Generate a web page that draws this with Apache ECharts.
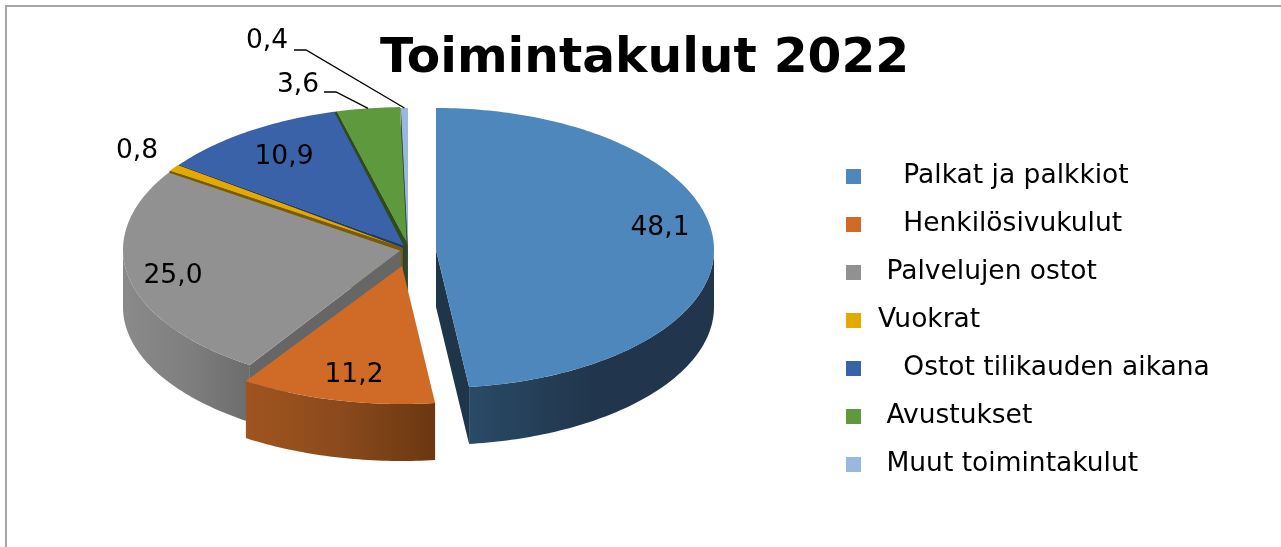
<!DOCTYPE html>
<html>
<head>
<meta charset="utf-8">
<title>Toimintakulut 2022</title>
<script src="https://cdn.jsdelivr.net/npm/echarts@6/dist/echarts.min.js"></script>
<style>
  html, body { margin: 0; padding: 0; background: #fff; }
  #chart { width: 1281px; height: 547px; }
</style>
</head>
<body>
<div id="chart"></div>
<script>
// data
const categories = ['   Palkat ja palkkiot', '   Henkilösivukulut', ' Palvelujen ostot', 'Vuokrat', '   Ostot tilikauden aikana', ' Avustukset', ' Muut toimintakulut'];
const values = [48.1, 11.2, 25.0, 0.8, 10.9, 3.6, 0.4];

// colours
const topColors = ['#4e87bb', '#d06b27', '#919191', '#e3a900', '#3a62a8', '#5f993e', '#98b8df'];
const wallGradients = [
  ['#2a4a66', '#21364c', '#21364c'], ['#a0541f', '#8a4a1c', '#6b3711'], ['#8a8a8a', '#7f7f7f', '#6c6c6c'],
  ['#8f6b00', '#8f6b00', '#7a5c00'], ['#24406f', '#24406f', '#1f3a6b'], ['#3b5f26', '#3b5f26', '#2e4a1e'],
  ['#5f7590', '#5f7590', '#5f7590']
];
const edgeColors = ['#1f3549', '#6b3711', '#666666', '#7a5c00', '#1f3a6b', '#2e4a1e', '#3a4f3a'];

// layout of the drawn pie, in pixels
const cx = 406, cy = 250, rxLeft = 283, rxRight = 278, ryBack = 142, ryFront = 138, depth = 57;
const shifts = [[30, 0], [-4, 16], [0, 0], [0, -1], [1, -1], [1, -1], [2, 0]];
const apexNudge = [[0, 0], [0, 0], [-5, 0], [-3, -1], [-3, -3], [0, -6], [0, 0]];
const lips = [0, 0, 0, 3.5, 1, 4, 1];
const labelAt = [[660, 228], [354, 375], [173, 276], [137, 151], [284, 157], [298, 85], [267, 41]];
const leaderFrom = [null, null, null, null, null, [324, 92], [294, 50]];

const fontName = '"DejaVu Sans", Verdana, sans-serif';

const total = values.reduce((a, b) => a + b, 0);
const startAngles = [];
values.reduce((sum, v, i) => { startAngles[i] = sum / total * 360; return sum + v; }, 0);

// clockwise degrees from the top
function rim(i, deg, dy) {
  const t = deg * Math.PI / 180, s = Math.sin(t), c = Math.cos(t);
  return [
    cx + shifts[i][0] + s * (s >= 0 ? rxRight : rxLeft),
    cy + shifts[i][1] - c * (c >= 0 ? ryBack : ryFront) + (dy || 0)
  ];
}
function apex(i, dy) {
  return [cx + shifts[i][0] + apexNudge[i][0], cy + shifts[i][1] + apexNudge[i][1] + (dy || 0)];
}
function arc(i, from, to, dy) {
  const pts = [], n = Math.max(2, Math.ceil(Math.abs(to - from)));
  for (let k = 0; k <= n; k++) pts.push(rim(i, from + (to - from) * k / n, dy));
  return pts;
}
function poly(points, fill) {
  return { type: 'polygon', shape: { points: points }, style: { fill: fill } };
}

// thin dark edge of slice j, lying on the slice painted just after it
function lipOf(j) {
  const c0 = apex(j), e = rim(j, startAngles[j]);
  const dx = e[0] - c0[0], dy = e[1] - c0[1], len = Math.hypot(dx, dy);
  const nx = dy / len, ny = -dx / len;
  const w = lips[j] * (ny > 0 ? 1 : -1);
  return poly([
    c0, e, [e[0] + nx * w * 0.6, e[1] + ny * w * 0.6], [c0[0] + nx * w, c0[1] + ny * w]
  ], edgeColors[j]);
}

function renderSlice(i, value) {
  const a0 = startAngles[i], a1 = a0 + value / total * 360;
  const children = [];
  const c0 = apex(i), c1 = apex(i, depth);

  // radial walls, only those turned to the viewer
  if (Math.cos((a0 - 90) * Math.PI / 180) < -1e-6) {
    children.push(poly([c0, rim(i, a0), rim(i, a0, depth), c1], edgeColors[i]));
  }
  if (Math.cos((a1 + 90) * Math.PI / 180) < -1e-6) {
    children.push(poly([c0, rim(i, a1), rim(i, a1, depth), c1], edgeColors[i]));
  }
  // outer wall, front part only
  const w0 = Math.max(a0, 90), w1 = Math.min(a1, 270);
  if (w1 > w0) {
    const grad = new echarts.graphic.LinearGradient(0, 0, 1, 0, [
      { offset: 0, color: wallGradients[i][0] },
      { offset: 0.5, color: wallGradients[i][1] },
      { offset: 1, color: wallGradients[i][2] }
    ]);
    children.push(poly(arc(i, w0, w1).concat(arc(i, w1, w0, depth)), grad));
  }
  // top
  children.push(poly([c0].concat(arc(i, a0, a1)), topColors[i]));

  if (lips[i + 1]) children.push(lipOf(i + 1));

  // leader
  if (leaderFrom[i]) {
    const from = leaderFrom[i], end = rim(i, (a0 + a1) / 2);
    children.push({
      type: 'polyline',
      shape: { points: [from, [from[0] + 12, from[1]], end] },
      style: { stroke: '#000', lineWidth: 1.3, fill: null }
    });
  }
  // value label
  children.push({
    type: 'text',
    style: {
      x: labelAt[i][0], y: labelAt[i][1], text: value.toFixed(1).replace('.', ','),
      font: '26.5px ' + fontName, fill: '#000', textAlign: 'center', textVerticalAlign: 'middle'
    }
  });
  return { type: 'group', children: children };
}

// back slices first so that the front ones paint over them
const drawOrder = categories.map((_, i) => categories.length - 1 - i);
const series = drawOrder.map(i => ({
  type: 'custom',
  name: categories[i],
  coordinateSystem: 'none',
  itemStyle: { color: topColors[i] },
  data: [[values[i]]],
  renderItem: (params, api) => renderSlice(i, api.value(0))
}));

const chart = echarts.init(document.getElementById('chart'), null, { renderer: 'canvas' });
chart.setOption({
  animation: false,
  backgroundColor: '#fff',
  title: {
    text: 'Toimintakulut 2022',
    left: 375, top: 30,
    textStyle: { fontFamily: fontName, fontSize: 48.7, fontWeight: 'bold', color: '#000' }
  },
  legend: {
    orient: 'vertical',
    left: 841, top: 158,
    icon: 'rect',
    itemWidth: 15, itemHeight: 15, itemGap: 21,
    selectedMode: false,
    data: categories,
    textStyle: { fontFamily: fontName, fontSize: 26.5, color: '#000', padding: [0, 0, 0, 12] }
  },
  graphic: [
    { type: 'line', silent: true, shape: { x1: 6, y1: 5, x2: 6, y2: 547 }, style: { stroke: '#a6a6a6', lineWidth: 2 } },
    { type: 'line', silent: true, shape: { x1: 5, y1: 6, x2: 1281, y2: 6 }, style: { stroke: '#a6a6a6', lineWidth: 2 } }
  ],
  series: series
});
</script>
</body>
</html>
